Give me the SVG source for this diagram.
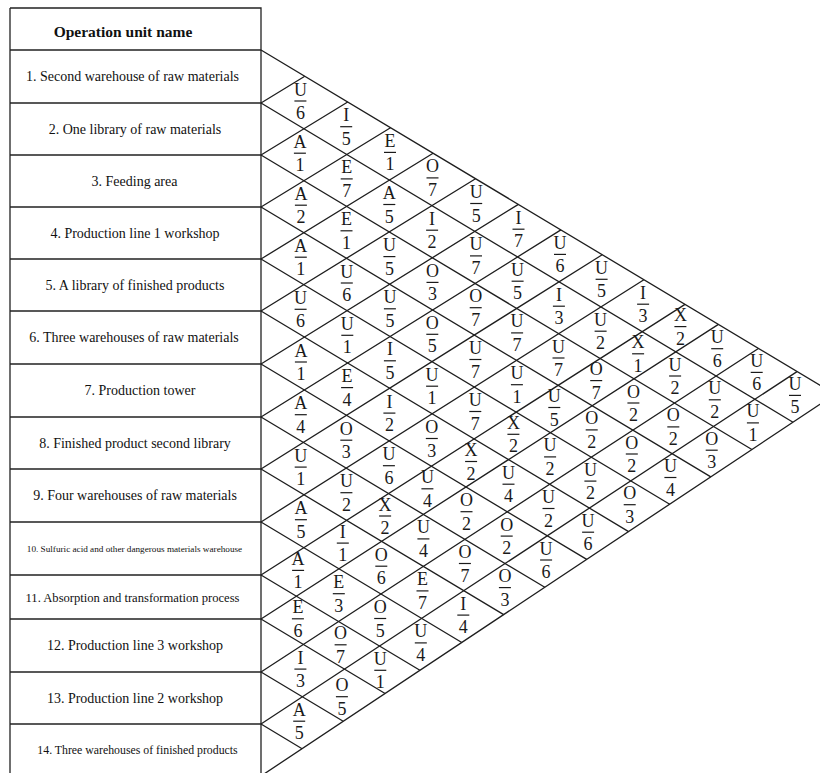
<svg xmlns="http://www.w3.org/2000/svg" width="820" height="773" viewBox="0 0 820 773">
<style>
.tb{fill:none;stroke:#222;stroke-width:1.3}
.gl{fill:none;stroke:#1e1e1e;stroke-width:1.3}
.lb{font-family:"Liberation Serif","Times New Roman",serif;font-size:14px;fill:#111;text-anchor:middle}
.hd{font-family:"Liberation Serif","Times New Roman",serif;font-size:15.5px;font-weight:bold;fill:#111;text-anchor:middle}
.c text{font-family:"Liberation Serif","Times New Roman",serif;font-size:18px;fill:#1a1a1a;text-anchor:middle}
.c line{stroke:#1a1a1a;stroke-width:1.2}
</style>
<rect width="820" height="773" fill="#fff"/>
<g id="table">
<path class="tb" d="M10 8H261V776M10 8V776M10 50H261M10 103H261M10 155H261M10 207H261M10 259H261M10 311H261M10 364H261M10 417H261M10 469H261M10 522H261M10 575H261M10 619H261M10 672H261M10 724H261"/>
<g id="header"><text class="hd" x="123" y="37">Operation unit name</text></g>
<g id="unit-1"><text class="lb" x="132.5" y="81">1. Second warehouse of raw materials</text></g>
<g id="unit-2"><text class="lb" x="135" y="133.5">2. One library of raw materials</text></g>
<g id="unit-3"><text class="lb" x="134.5" y="185.5">3. Feeding area</text></g>
<g id="unit-4"><text class="lb" x="135" y="237.5">4. Production line 1 workshop</text></g>
<g id="unit-5"><text class="lb" x="135" y="289.5">5. A library of finished products</text></g>
<g id="unit-6"><text class="lb" x="134" y="342">6. Three warehouses of raw materials</text></g>
<g id="unit-7"><text class="lb" x="140" y="395">7. Production tower</text></g>
<g id="unit-8"><text class="lb" x="135" y="447.5">8. Finished product second library</text></g>
<g id="unit-9"><text class="lb" x="135" y="500">9. Four warehouses of raw materials</text></g>
<g id="unit-10"><text class="lb" x="134.5" y="552" style="font-size:9.2px">10. Sulfuric acid and other dangerous materials warehouse</text></g>
<g id="unit-11"><text class="lb" x="132.5" y="601.5" style="font-size:12.6px">11. Absorption and transformation process</text></g>
<g id="unit-12"><text class="lb" x="135" y="650">12. Production line 3 workshop</text></g>
<g id="unit-13"><text class="lb" x="135" y="702.5">13. Production line 2 workshop</text></g>
<g id="unit-14"><text class="lb" x="137.5" y="754" style="font-size:11.8px">14. Three warehouses of finished products</text></g>
</g>
<g id="grid" class="gl">
<path d="M261 50L834.9 394.3M261 103L793 422.2M261 155L751.9 449.5M261 207L710.8 476.9M261 259L669.7 504.2M261 311L628.6 531.6M261 364L586.7 559.4M261 417L544.8 587.3M261 469L503.7 614.6M261 522L461.8 642.5M261 575L419.9 670.3M261 619L385.1 693.5M261 672L343.2 721.3M261 724L302.1 748.7"/>
<path d="M261 103L304.8 76.3M261 155L347.7 102M261 207L390.5 127.7M261 259L433.1 153.3M261 311L475.5 178.7M261 364L518.4 204.4M261 417L560.9 229.9M261 469L602.2 254.7M261 522L643.9 279.7M261 575L685 304.4M261 619L718.4 324.4M261 672L758.4 348.5M261 724L797 371.6M261 776L834.9 394.3"/>
</g>
<g id="cells">
<g id="r1-2" class="c" transform="translate(300.4,102.5)"><text y="-7">U</text><line x1="-6" y1="-1.5" x2="6" y2="-1.5"/><text y="16.5">6</text></g>
<g id="r1-3" class="c" transform="translate(346.2,128.2)"><text y="-7">I</text><line x1="-6" y1="-1.5" x2="6" y2="-1.5"/><text y="16.5">5</text></g>
<g id="r2-3" class="c" transform="translate(299.9,154.7)"><text y="-7">A</text><line x1="-6" y1="-1.5" x2="6" y2="-1.5"/><text y="16.5">1</text></g>
<g id="r1-4" class="c" transform="translate(390,153.9)"><text y="-7">E</text><line x1="-6" y1="-1.5" x2="6" y2="-1.5"/><text y="16.5">1</text></g>
<g id="r2-4" class="c" transform="translate(346.7,180.4)"><text y="-7">E</text><line x1="-6" y1="-1.5" x2="6" y2="-1.5"/><text y="16.5">7</text></g>
<g id="r3-4" class="c" transform="translate(300.9,206.7)"><text y="-7">A</text><line x1="-6" y1="-1.5" x2="6" y2="-1.5"/><text y="16.5">2</text></g>
<g id="r1-5" class="c" transform="translate(432.5,179.4)"><text y="-7">O</text><line x1="-6" y1="-1.5" x2="6" y2="-1.5"/><text y="16.5">7</text></g>
<g id="r2-5" class="c" transform="translate(389.3,206)"><text y="-7">A</text><line x1="-6" y1="-1.5" x2="6" y2="-1.5"/><text y="16.5">5</text></g>
<g id="r3-5" class="c" transform="translate(346.5,232.3)"><text y="-7">E</text><line x1="-6" y1="-1.5" x2="6" y2="-1.5"/><text y="16.5">1</text></g>
<g id="r4-5" class="c" transform="translate(300.8,258.7)"><text y="-7">A</text><line x1="-6" y1="-1.5" x2="6" y2="-1.5"/><text y="16.5">1</text></g>
<g id="r1-6" class="c" transform="translate(476.2,205)"><text y="-7">U</text><line x1="-6" y1="-1.5" x2="6" y2="-1.5"/><text y="16.5">5</text></g>
<g id="r2-6" class="c" transform="translate(432.1,231.7)"><text y="-7">I</text><line x1="-6" y1="-1.5" x2="6" y2="-1.5"/><text y="16.5">2</text></g>
<g id="r3-6" class="c" transform="translate(389.4,258.1)"><text y="-7">U</text><line x1="-6" y1="-1.5" x2="6" y2="-1.5"/><text y="16.5">5</text></g>
<g id="r4-6" class="c" transform="translate(346.8,284.5)"><text y="-7">U</text><line x1="-6" y1="-1.5" x2="6" y2="-1.5"/><text y="16.5">6</text></g>
<g id="r5-6" class="c" transform="translate(300.6,310.8)"><text y="-7">U</text><line x1="-6" y1="-1.5" x2="6" y2="-1.5"/><text y="16.5">6</text></g>
<g id="r1-7" class="c" transform="translate(518.5,230.7)"><text y="-7">I</text><line x1="-6" y1="-1.5" x2="6" y2="-1.5"/><text y="16.5">7</text></g>
<g id="r2-7" class="c" transform="translate(476,257.4)"><text y="-7">U</text><line x1="-6" y1="-1.5" x2="6" y2="-1.5"/><text y="16.5">7</text></g>
<g id="r3-7" class="c" transform="translate(432.5,283.9)"><text y="-7">O</text><line x1="-6" y1="-1.5" x2="6" y2="-1.5"/><text y="16.5">3</text></g>
<g id="r4-7" class="c" transform="translate(389.9,310.3)"><text y="-7">U</text><line x1="-6" y1="-1.5" x2="6" y2="-1.5"/><text y="16.5">5</text></g>
<g id="r5-7" class="c" transform="translate(347.3,336.8)"><text y="-7">U</text><line x1="-6" y1="-1.5" x2="6" y2="-1.5"/><text y="16.5">1</text></g>
<g id="r6-7" class="c" transform="translate(300.9,363.5)"><text y="-7">A</text><line x1="-6" y1="-1.5" x2="6" y2="-1.5"/><text y="16.5">1</text></g>
<g id="r1-8" class="c" transform="translate(560,255.9)"><text y="-7">U</text><line x1="-6" y1="-1.5" x2="6" y2="-1.5"/><text y="16.5">6</text></g>
<g id="r2-8" class="c" transform="translate(517.6,282.7)"><text y="-7">U</text><line x1="-6" y1="-1.5" x2="6" y2="-1.5"/><text y="16.5">5</text></g>
<g id="r3-8" class="c" transform="translate(475.7,309.2)"><text y="-7">O</text><line x1="-6" y1="-1.5" x2="6" y2="-1.5"/><text y="16.5">7</text></g>
<g id="r4-8" class="c" transform="translate(432.3,335.8)"><text y="-7">O</text><line x1="-6" y1="-1.5" x2="6" y2="-1.5"/><text y="16.5">5</text></g>
<g id="r5-8" class="c" transform="translate(389.9,362.3)"><text y="-7">I</text><line x1="-6" y1="-1.5" x2="6" y2="-1.5"/><text y="16.5">5</text></g>
<g id="r6-8" class="c" transform="translate(347.1,389.1)"><text y="-7">E</text><line x1="-6" y1="-1.5" x2="6" y2="-1.5"/><text y="16.5">4</text></g>
<g id="r7-8" class="c" transform="translate(300.8,416.2)"><text y="-7">A</text><line x1="-6" y1="-1.5" x2="6" y2="-1.5"/><text y="16.5">4</text></g>
<g id="r1-9" class="c" transform="translate(601.6,280.8)"><text y="-7">U</text><line x1="-6" y1="-1.5" x2="6" y2="-1.5"/><text y="16.5">5</text></g>
<g id="r2-9" class="c" transform="translate(558.9,307.7)"><text y="-7">I</text><line x1="-6" y1="-1.5" x2="6" y2="-1.5"/><text y="16.5">3</text></g>
<g id="r3-9" class="c" transform="translate(517.1,334.4)"><text y="-7">U</text><line x1="-6" y1="-1.5" x2="6" y2="-1.5"/><text y="16.5">7</text></g>
<g id="r4-9" class="c" transform="translate(475.4,361)"><text y="-7">U</text><line x1="-6" y1="-1.5" x2="6" y2="-1.5"/><text y="16.5">7</text></g>
<g id="r5-9" class="c" transform="translate(432.1,387.7)"><text y="-7">U</text><line x1="-6" y1="-1.5" x2="6" y2="-1.5"/><text y="16.5">1</text></g>
<g id="r6-9" class="c" transform="translate(389.4,414.6)"><text y="-7">I</text><line x1="-6" y1="-1.5" x2="6" y2="-1.5"/><text y="16.5">2</text></g>
<g id="r7-9" class="c" transform="translate(346.3,441.7)"><text y="-7">O</text><line x1="-6" y1="-1.5" x2="6" y2="-1.5"/><text y="16.5">3</text></g>
<g id="r8-9" class="c" transform="translate(300.7,468.6)"><text y="-7">U</text><line x1="-6" y1="-1.5" x2="6" y2="-1.5"/><text y="16.5">1</text></g>
<g id="r1-10" class="c" transform="translate(643.1,305.7)"><text y="-7">I</text><line x1="-6" y1="-1.5" x2="6" y2="-1.5"/><text y="16.5">3</text></g>
<g id="r2-10" class="c" transform="translate(600.6,332.7)"><text y="-7">U</text><line x1="-6" y1="-1.5" x2="6" y2="-1.5"/><text y="16.5">2</text></g>
<g id="r3-10" class="c" transform="translate(558.5,359.5)"><text y="-7">U</text><line x1="-6" y1="-1.5" x2="6" y2="-1.5"/><text y="16.5">7</text></g>
<g id="r4-10" class="c" transform="translate(516.9,386.2)"><text y="-7">U</text><line x1="-6" y1="-1.5" x2="6" y2="-1.5"/><text y="16.5">1</text></g>
<g id="r5-10" class="c" transform="translate(475.3,413)"><text y="-7">U</text><line x1="-6" y1="-1.5" x2="6" y2="-1.5"/><text y="16.5">7</text></g>
<g id="r6-10" class="c" transform="translate(431.8,440)"><text y="-7">O</text><line x1="-6" y1="-1.5" x2="6" y2="-1.5"/><text y="16.5">3</text></g>
<g id="r7-10" class="c" transform="translate(388.9,467.2)"><text y="-7">U</text><line x1="-6" y1="-1.5" x2="6" y2="-1.5"/><text y="16.5">6</text></g>
<g id="r8-10" class="c" transform="translate(346.4,494.2)"><text y="-7">U</text><line x1="-6" y1="-1.5" x2="6" y2="-1.5"/><text y="16.5">2</text></g>
<g id="r9-10" class="c" transform="translate(300.9,521.2)"><text y="-7">A</text><line x1="-6" y1="-1.5" x2="6" y2="-1.5"/><text y="16.5">5</text></g>
<g id="r1-11" class="c" transform="translate(680.4,328.1)"><text y="-7">X</text><line x1="-6" y1="-1.5" x2="6" y2="-1.5"/><text y="16.5">2</text></g>
<g id="r2-11" class="c" transform="translate(638.1,355.3)"><text y="-7">X</text><line x1="-6" y1="-1.5" x2="6" y2="-1.5"/><text y="16.5">1</text></g>
<g id="r3-11" class="c" transform="translate(596.2,382.1)"><text y="-7">O</text><line x1="-6" y1="-1.5" x2="6" y2="-1.5"/><text y="16.5">7</text></g>
<g id="r4-11" class="c" transform="translate(554.3,409)"><text y="-7">U</text><line x1="-6" y1="-1.5" x2="6" y2="-1.5"/><text y="16.5">5</text></g>
<g id="r5-11" class="c" transform="translate(513.4,435.8)"><text y="-7">X</text><line x1="-6" y1="-1.5" x2="6" y2="-1.5"/><text y="16.5">2</text></g>
<g id="r6-11" class="c" transform="translate(471.1,463)"><text y="-7">X</text><line x1="-6" y1="-1.5" x2="6" y2="-1.5"/><text y="16.5">2</text></g>
<g id="r7-11" class="c" transform="translate(427.4,490.3)"><text y="-7">U</text><line x1="-6" y1="-1.5" x2="6" y2="-1.5"/><text y="16.5">4</text></g>
<g id="r8-11" class="c" transform="translate(385.1,517.5)"><text y="-7">X</text><line x1="-6" y1="-1.5" x2="6" y2="-1.5"/><text y="16.5">2</text></g>
<g id="r9-11" class="c" transform="translate(342.8,544.6)"><text y="-7">I</text><line x1="-6" y1="-1.5" x2="6" y2="-1.5"/><text y="16.5">1</text></g>
<g id="r10-11" class="c" transform="translate(298.1,571.9)"><text y="-7">A</text><line x1="-6" y1="-1.5" x2="6" y2="-1.5"/><text y="16.5">1</text></g>
<g id="r1-12" class="c" transform="translate(717.2,350.2)"><text y="-7">U</text><line x1="-6" y1="-1.5" x2="6" y2="-1.5"/><text y="16.5">6</text></g>
<g id="r2-12" class="c" transform="translate(675.1,377.5)"><text y="-7">U</text><line x1="-6" y1="-1.5" x2="6" y2="-1.5"/><text y="16.5">2</text></g>
<g id="r3-12" class="c" transform="translate(633.4,404.5)"><text y="-7">O</text><line x1="-6" y1="-1.5" x2="6" y2="-1.5"/><text y="16.5">2</text></g>
<g id="r4-12" class="c" transform="translate(591.7,431.4)"><text y="-7">O</text><line x1="-6" y1="-1.5" x2="6" y2="-1.5"/><text y="16.5">2</text></g>
<g id="r5-12" class="c" transform="translate(550.1,458.4)"><text y="-7">U</text><line x1="-6" y1="-1.5" x2="6" y2="-1.5"/><text y="16.5">2</text></g>
<g id="r6-12" class="c" transform="translate(508.5,485.7)"><text y="-7">U</text><line x1="-6" y1="-1.5" x2="6" y2="-1.5"/><text y="16.5">4</text></g>
<g id="r7-12" class="c" transform="translate(466.5,513.2)"><text y="-7">O</text><line x1="-6" y1="-1.5" x2="6" y2="-1.5"/><text y="16.5">2</text></g>
<g id="r8-12" class="c" transform="translate(423.4,540.4)"><text y="-7">U</text><line x1="-6" y1="-1.5" x2="6" y2="-1.5"/><text y="16.5">4</text></g>
<g id="r9-12" class="c" transform="translate(381.3,567.7)"><text y="-7">O</text><line x1="-6" y1="-1.5" x2="6" y2="-1.5"/><text y="16.5">6</text></g>
<g id="r10-12" class="c" transform="translate(338.8,595.2)"><text y="-7">E</text><line x1="-6" y1="-1.5" x2="6" y2="-1.5"/><text y="16.5">3</text></g>
<g id="r11-12" class="c" transform="translate(297.9,620.3)"><text y="-7">E</text><line x1="-6" y1="-1.5" x2="6" y2="-1.5"/><text y="16.5">6</text></g>
<g id="r1-13" class="c" transform="translate(756.7,373.9)"><text y="-7">U</text><line x1="-6" y1="-1.5" x2="6" y2="-1.5"/><text y="16.5">6</text></g>
<g id="r2-13" class="c" transform="translate(714.8,401.3)"><text y="-7">U</text><line x1="-6" y1="-1.5" x2="6" y2="-1.5"/><text y="16.5">2</text></g>
<g id="r3-13" class="c" transform="translate(673.3,428.4)"><text y="-7">O</text><line x1="-6" y1="-1.5" x2="6" y2="-1.5"/><text y="16.5">2</text></g>
<g id="r4-13" class="c" transform="translate(631.8,455.5)"><text y="-7">O</text><line x1="-6" y1="-1.5" x2="6" y2="-1.5"/><text y="16.5">2</text></g>
<g id="r5-13" class="c" transform="translate(590.4,482.6)"><text y="-7">U</text><line x1="-6" y1="-1.5" x2="6" y2="-1.5"/><text y="16.5">2</text></g>
<g id="r6-13" class="c" transform="translate(548.5,510)"><text y="-7">U</text><line x1="-6" y1="-1.5" x2="6" y2="-1.5"/><text y="16.5">2</text></g>
<g id="r7-13" class="c" transform="translate(506.7,537.6)"><text y="-7">O</text><line x1="-6" y1="-1.5" x2="6" y2="-1.5"/><text y="16.5">2</text></g>
<g id="r8-13" class="c" transform="translate(464.9,565)"><text y="-7">O</text><line x1="-6" y1="-1.5" x2="6" y2="-1.5"/><text y="16.5">7</text></g>
<g id="r9-13" class="c" transform="translate(422.5,592.4)"><text y="-7">E</text><line x1="-6" y1="-1.5" x2="6" y2="-1.5"/><text y="16.5">7</text></g>
<g id="r10-13" class="c" transform="translate(380.2,620)"><text y="-7">O</text><line x1="-6" y1="-1.5" x2="6" y2="-1.5"/><text y="16.5">5</text></g>
<g id="r11-13" class="c" transform="translate(340.6,646.3)"><text y="-7">O</text><line x1="-6" y1="-1.5" x2="6" y2="-1.5"/><text y="16.5">7</text></g>
<g id="r12-13" class="c" transform="translate(300.4,670.6)"><text y="-7">I</text><line x1="-6" y1="-1.5" x2="6" y2="-1.5"/><text y="16.5">3</text></g>
<g id="r1-14" class="c" transform="translate(795,396.9)"><text y="-7">U</text><line x1="-6" y1="-1.5" x2="6" y2="-1.5"/><text y="16.5">5</text></g>
<g id="r2-14" class="c" transform="translate(752.9,424.4)"><text y="-7">U</text><line x1="-6" y1="-1.5" x2="6" y2="-1.5"/><text y="16.5">1</text></g>
<g id="r3-14" class="c" transform="translate(711.7,451.7)"><text y="-7">O</text><line x1="-6" y1="-1.5" x2="6" y2="-1.5"/><text y="16.5">3</text></g>
<g id="r4-14" class="c" transform="translate(670.4,479)"><text y="-7">U</text><line x1="-6" y1="-1.5" x2="6" y2="-1.5"/><text y="16.5">4</text></g>
<g id="r5-14" class="c" transform="translate(629.7,506.2)"><text y="-7">O</text><line x1="-6" y1="-1.5" x2="6" y2="-1.5"/><text y="16.5">3</text></g>
<g id="r6-14" class="c" transform="translate(588.1,533.7)"><text y="-7">U</text><line x1="-6" y1="-1.5" x2="6" y2="-1.5"/><text y="16.5">6</text></g>
<g id="r7-14" class="c" transform="translate(546.1,561.5)"><text y="-7">U</text><line x1="-6" y1="-1.5" x2="6" y2="-1.5"/><text y="16.5">6</text></g>
<g id="r8-14" class="c" transform="translate(504.9,589.1)"><text y="-7">O</text><line x1="-6" y1="-1.5" x2="6" y2="-1.5"/><text y="16.5">3</text></g>
<g id="r9-14" class="c" transform="translate(463.3,616.6)"><text y="-7">I</text><line x1="-6" y1="-1.5" x2="6" y2="-1.5"/><text y="16.5">4</text></g>
<g id="r10-14" class="c" transform="translate(420.8,644.4)"><text y="-7">U</text><line x1="-6" y1="-1.5" x2="6" y2="-1.5"/><text y="16.5">4</text></g>
<g id="r11-14" class="c" transform="translate(380.3,671.8)"><text y="-7">U</text><line x1="-6" y1="-1.5" x2="6" y2="-1.5"/><text y="16.5">1</text></g>
<g id="r12-14" class="c" transform="translate(341.9,698.2)"><text y="-7">O</text><line x1="-6" y1="-1.5" x2="6" y2="-1.5"/><text y="16.5">5</text></g>
<g id="r13-14" class="c" transform="translate(299.2,722.7)"><text y="-7">A</text><line x1="-6" y1="-1.5" x2="6" y2="-1.5"/><text y="16.5">5</text></g>
</g>
</svg>
